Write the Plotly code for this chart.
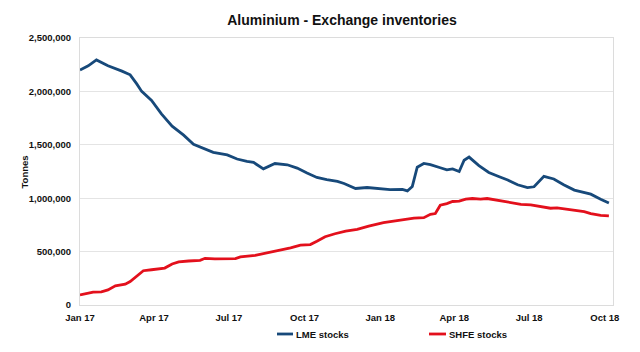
import plotly.graph_objects as go

lme_dates = ["2017-01-01", "2017-01-11", "2017-01-21", "2017-02-04", "2017-02-21", "2017-03-03",
             "2017-03-11", "2017-03-17", "2017-03-29", "2017-04-10", "2017-04-23", "2017-05-07",
             "2017-05-19", "2017-05-31", "2017-06-12", "2017-06-29", "2017-07-11", "2017-07-23",
             "2017-07-31", "2017-08-12", "2017-08-26", "2017-09-10", "2017-09-22", "2017-10-04",
             "2017-10-16", "2017-10-28", "2017-11-10", "2017-11-18", "2017-12-02", "2017-12-16",
             "2018-01-01", "2018-01-13", "2018-01-28", "2018-02-03", "2018-02-09", "2018-02-15",
             "2018-02-23", "2018-03-03", "2018-03-15", "2018-03-23", "2018-03-30", "2018-04-07",
             "2018-04-13", "2018-04-19", "2018-05-01", "2018-05-13", "2018-05-25", "2018-06-05",
             "2018-06-17", "2018-06-29", "2018-07-07", "2018-07-19", "2018-07-31", "2018-08-12",
             "2018-08-25", "2018-09-06", "2018-09-14", "2018-09-26", "2018-10-06"]
lme_stocks = [2200000, 2240000, 2295000, 2240000, 2190000, 2155000,
              2070000, 2000000, 1915000, 1790000, 1675000, 1590000,
              1505000, 1470000, 1430000, 1405000, 1367000, 1344000,
              1335000, 1275000, 1325000, 1313000, 1282000, 1235000,
              1194000, 1175000, 1157000, 1138000, 1091000, 1100000,
              1091000, 1080000, 1082000, 1068000, 1110000, 1290000,
              1325000, 1315000, 1285000, 1265000, 1275000, 1250000,
              1355000, 1385000, 1305000, 1241000, 1203000, 1170000,
              1126000, 1100000, 1107000, 1205000, 1180000, 1126000,
              1076000, 1054000, 1038000, 991000, 955000]

shfe_dates = ["2017-01-01", "2017-01-11", "2017-01-17", "2017-01-27", "2017-02-04", "2017-02-13",
              "2017-02-25", "2017-03-03", "2017-03-11", "2017-03-19", "2017-03-29", "2017-04-14",
              "2017-04-23", "2017-05-01", "2017-05-13", "2017-05-27", "2017-06-02", "2017-06-14",
              "2017-07-09", "2017-07-15", "2017-08-02", "2017-08-12", "2017-08-29", "2017-09-14",
              "2017-09-26", "2017-10-08", "2017-10-16", "2017-10-26", "2017-11-07", "2017-11-20",
              "2017-12-04", "2017-12-18", "2018-01-05", "2018-01-17", "2018-01-30", "2018-02-11",
              "2018-02-23", "2018-03-03", "2018-03-09", "2018-03-15", "2018-03-23", "2018-03-30",
              "2018-04-07", "2018-04-15", "2018-04-23", "2018-05-03", "2018-05-11", "2018-05-21",
              "2018-05-31", "2018-06-11", "2018-06-21", "2018-07-03", "2018-07-15", "2018-07-27",
              "2018-08-04", "2018-08-17", "2018-08-29", "2018-09-06", "2018-09-14", "2018-09-26",
              "2018-10-06"]
shfe_stocks = [94000, 110000, 120000, 123000, 141000, 179000,
               195000, 220000, 267000, 321000, 330000, 346000,
               384000, 403000, 412000, 418000, 437000, 431000,
               434000, 450000, 465000, 481000, 503000, 535000,
               560000, 566000, 597000, 639000, 667000, 692000,
               708000, 739000, 771000, 786000, 802000, 814000,
               818000, 849000, 856000, 934000, 950000, 969000,
               972000, 991000, 997000, 991000, 997000, 984000,
               975000, 959000, 943000, 937000, 918000, 906000,
               909000, 896000, 880000, 874000, 856000, 840000,
               835000]

tick_dates = ["2017-01-01", "2017-04-01", "2017-07-01", "2017-10-01",
              "2018-01-01", "2018-04-01", "2018-07-01", "2018-10-01"]
tick_labels = ["Jan 17", "Apr 17", "Jul 17", "Oct 17", "Jan 18", "Apr 18", "Jul 18", "Oct 18"]

series_names = ["LME stocks", "SHFE stocks"]
colors = ["#17497a", "#e3101c"]

FONT = "Liberation Sans, Arial, sans-serif"

fig = go.Figure()
fig.add_trace(go.Scatter(x=lme_dates, y=lme_stocks, mode="lines", name=series_names[0],
                         line=dict(color=colors[0], width=2.8), showlegend=False))
fig.add_trace(go.Scatter(x=shfe_dates, y=shfe_stocks, mode="lines", name=series_names[1],
                         line=dict(color=colors[1], width=2.8), showlegend=False))

fig.update_layout(
    width=640, height=352,
    margin=dict(l=80, r=27, t=38, b=47),
    paper_bgcolor="white", plot_bgcolor="white",
    font=dict(family=FONT, color="#111111"),
    title=dict(text="<b>Aluminium - Exchange inventories</b>", x=(342 - 80) / 533, xref="paper",
               xanchor="center", y=1 - 20 / 352, yanchor="middle",
               font=dict(size=14, family=FONT, color="#111111")),
    xaxis=dict(range=["2017-01-01", "2018-10-11"], tickmode="array", tickvals=tick_dates,
               ticktext=tick_labels, showgrid=False, showline=True, mirror=True,
               linecolor="#dcdcdc", linewidth=1, ticks="", ticklabelstandoff=4,
               tickfont=dict(size=9.5, family=FONT, weight="bold", color="#111111")),
    yaxis=dict(range=[0, 2500000], dtick=500000, tickformat=",d", showgrid=True,
               gridcolor="#e4e4e4", gridwidth=1, showline=True, mirror=True,
               linecolor="#dcdcdc", linewidth=1, zeroline=False, ticks="",
               ticklabelstandoff=6,
               tickfont=dict(size=9.5, family=FONT, weight="bold", color="#111111")),
)

# y-axis title
fig.add_annotation(text="<b>Tonnes</b>", textangle=-90, x=(24 - 80) / 533, y=0.5,
                   xref="paper", yref="paper", xanchor="center", yanchor="middle",
                   showarrow=False, font=dict(size=9.5, family=FONT, color="#111111"))

# legend
leg_y = (305 - 334) / 267
leg = [(277, 293), (429, 446)]
for (x0, x1), name, col in zip(leg, series_names, colors):
    fig.add_shape(type="line", xref="paper", yref="paper",
                  x0=(x0 - 80) / 533, x1=(x1 - 80) / 533, y0=leg_y, y1=leg_y,
                  line=dict(color=col, width=2.8))
    fig.add_annotation(text="<b>" + name + "</b>", x=(x1 + 1 - 80) / 533, y=leg_y,
                       xref="paper", yref="paper", xanchor="left", yanchor="middle",
                       showarrow=False, font=dict(size=9.5, family=FONT, color="#111111"))

fig.write_html("out.html")
